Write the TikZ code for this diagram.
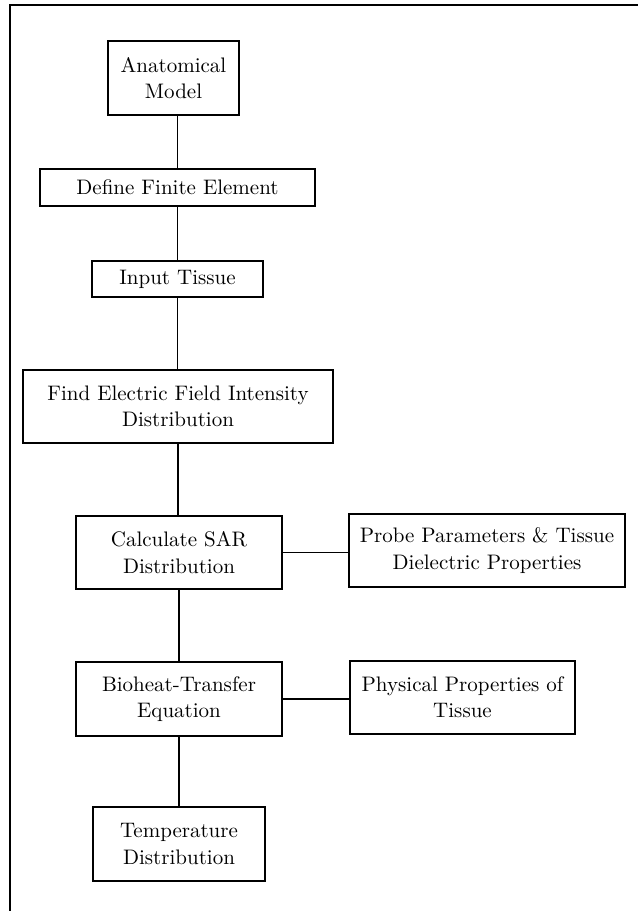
\documentclass[tikz,border=0pt]{standalone}

\begin{document}
\begin{tikzpicture}[x=0.5pt,y=-0.5pt,
  box/.style={draw,line width=0.9pt,align=center,inner sep=2pt,
    font=\fontsize{10.5}{13.2}\selectfont},
  link/.style={line width=0.8pt}]
  \useasboundingbox (0,0) rectangle (638,911);
  \draw[line width=1pt] (10,911) -- (10,5) -- (638,5);

  \node[box,minimum width=65.5pt,minimum height=37pt] (anat) at (173.5,78) {Anatomical\\Model};
  \node[box,minimum width=137.5pt,minimum height=18.5pt] (define) at (177.5,187.5) {Define Finite Element};
  \node[box,minimum width=85.5pt,minimum height=18pt] (input) at (177.5,279) {Input Tissue};
  \node[box,minimum width=155pt,minimum height=36.5pt] (field) at (178,406.5) {Find Electric Field Intensity\\Distribution};
  \node[box,minimum width=103pt,minimum height=36.5pt] (sar) at (179,552.5) {Calculate SAR\\Distribution};
  \node[box,minimum width=138pt,minimum height=36.5pt] (probe) at (487,550.5) {Probe Parameters \& Tissue\\Dielectric Properties};
  \node[box,minimum width=103pt,minimum height=37pt] (bioheat) at (179,699) {Bioheat-Transfer\\Equation};
  \node[box,minimum width=112.5pt,minimum height=36.5pt] (physical) at (462.5,697.5) {Physical Properties of\\Tissue};
  \node[box,minimum width=86pt,minimum height=37pt] (temp) at (179,844) {Temperature\\Distribution};

  \draw[link] (anat.south -| define.north) -- (define.north);
  \draw[link] (define) -- (input);
  \draw[link] (input) -- (input |- field.north);
  \draw[link] (field.south) -- (field.south |- sar.north);
  \draw[link] (sar) -- (bioheat);
  \draw[link] (bioheat) -- (temp);
  \draw[link] (sar) -- (sar -| probe.west);
  \draw[link] (bioheat) -- (bioheat -| physical.west);
\end{tikzpicture}
\end{document}
